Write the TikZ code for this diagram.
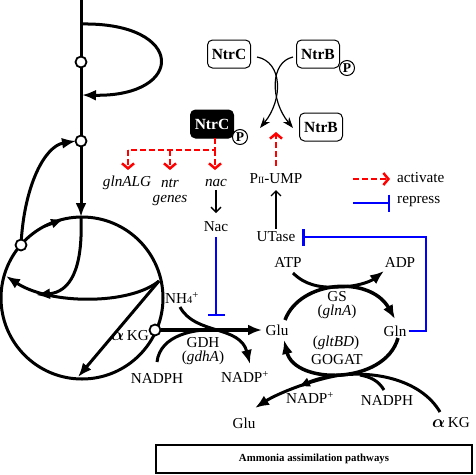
\documentclass[tikz,border=0pt]{standalone}
\usepackage{fontspec}
\setmainfont{Liberation Serif}
\usepackage{amsmath}
\usetikzlibrary{arrows.meta}
\begin{document}
\begin{tikzpicture}[x=1pt,y=-1pt,
  lbl/.style={font=\fontsize{15.2}{17}\selectfont, inner sep=0pt},
  ilbl/.style={font=\fontsize{15.2}{17}\selectfont\itshape, inner sep=0pt},
  ntrbox/.style={draw, rounded corners=5pt, line width=1pt, minimum width=43pt, minimum height=28pt, inner sep=0pt, font=\fontsize{15.5}{17}\selectfont\bfseries},
  pcirc/.style={circle, draw, fill=white, line width=1pt, minimum size=15pt, inner sep=0pt, font=\fontsize{13.5}{14}\selectfont\bfseries},
  met/.style={line width=3pt},
  bigtip/.style={-{Latex[length=14pt,width=11pt]}},
  oc/.style={circle, draw, fill=white, line width=1.8pt, minimum size=11pt, inner sep=0pt},
  act/.style={red, line width=2.5pt, dash pattern=on 6pt off 3pt},
  acttip/.style={-{Straight Barb[length=5pt,width=12pt]}},
  rep/.style={blue, line width=2.5pt},
  reptip/.style={-{Bar[width=17pt]}},
  thinarr/.style={line width=1.3pt, -{Straight Barb[length=5pt,width=10pt]}},
  cross/.style={line width=1.2pt, -{Stealth[length=11pt,width=8pt]}},
]
\useasboundingbox (0,0) rectangle (475,475);
\newcommand{\balpha}{{\fontsize{18}{18}\selectfont$\boldsymbol{\alpha}$}}

% ---------- top regulatory part ----------
\node[ntrbox] (ntrc1) at (229,54) {NtrC};
\node[ntrbox] (ntrb1) at (318,54) {NtrB};
\node[pcirc] (p1) at (347,68) {P};
\node[ntrbox] (ntrb2) at (321,127) {NtrB};
\node[ntrbox, fill=black, text=white] (ntrcp) at (212,124) {NtrC};
\node[pcirc] (p2) at (240,137) {P};

\coordinate (cA) at (257,57);
\coordinate (cB) at (293,57);
\coordinate (tA) at (260,128);
\coordinate (tB) at (293,128);
\draw[cross] (cA) .. controls (283,62) and (283,100) .. (tA);
\draw[cross] (cB) .. controls (270,62) and (270,100) .. (tB);

% labels of genes
\node[ilbl] (glnalg) at (127,183) {glnALG};
\node[ilbl] (ntr) at (170,183) {ntr};
\node[ilbl] (genes) at (170,201) {genes};
\node[ilbl] (nac) at (216,183) {nac};
\node[lbl] (Nac) at (216,227) {Nac};
\node[lbl] (pii) at (276,179) {P{\fontsize{9.5}{10}\selectfont II}-UMP};
\node[lbl] (utase) at (276,237) {UTase};

% red dashed activations
\coordinate (d0) at (215,138);
\coordinate (d1) at (215,150);
\coordinate (d2) at (128,150);
\coordinate (d3) at (170,150);
\draw[act] (d0) -- (d1) -- (d2);
\draw[act,acttip] (d2) -- (128,170);
\draw[act,acttip] (d3) -- (170,170);
\draw[act,acttip] (d1) -- (215,170);
\draw[act,acttip] (276,166) -- (276,132);

% black thin arrows
\draw[thinarr] (nac.south) ++(0,3) -- (216,213);
\draw[thinarr] (utase.north) ++(0,-3) -- (276,190);

% blue repressions
\draw[rep,reptip] (Nac.south) ++(0,5) -- (216,316);

% legend
\draw[act,acttip] (353,179) -- (390,179);
\node[lbl, anchor=west] (lact) at (397,178) {activate};
\draw[rep,reptip] (353,203) -- (390,203);
\node[lbl, anchor=west] (lrep) at (397,202) {repress};

% ---------- left metabolic circuit ----------
\draw[met] (82,298) circle[radius=81pt];
\draw[met,bigtip] (81,0) -- (81,217);
\draw[met,bigtip] (81,24) .. controls (186,22) and (186,97) .. (82,95);
\draw[met,-{Latex[length=13pt,width=10pt]}] (45,226) -- (64,219);
\draw[met,bigtip] (21,245) .. controls (24,185) and (45,146) .. (76,141);
\draw[met,bigtip] (81,217) .. controls (83,270) and (70,292) .. (36,295);
\draw[met,bigtip] (159,281) .. controls (130,305) and (50,305) .. (6,276);
\draw[met,bigtip] (159,281) -- (78,377);
\node[oc] (o1) at (81,62) {};
\node[oc] (o2) at (81,141) {};
\node[oc] (o3) at (21,245) {};
\node[oc] (o4) at (155,330) {};

% ---------- GDH ----------
\node[lbl] (glu1) at (277,330) {Glu};
\draw[line width=4pt,bigtip] (o4) -- (262,330);
\node[lbl] (akg1) at (130,336) {\balpha\,KG};
\node[lbl] (nh4) at (182,298) {NH{\fontsize{10.5}{10}\selectfont 4}\textsuperscript{+}};
\draw[met,bigtip] (180,307) .. controls (195,335) and (240,325) .. (250,364);
\draw[met] (157,362) .. controls (160,335) and (195,328) .. (220,330);
\node[lbl] (gdh) at (203,343) {GDH};
\node[lbl] (gdha) at (203,358) {(\textit{gdhA})};
\node[lbl] (nadph1) at (157,378) {NADPH};
\node[lbl] (nadp1) at (245,377) {NADP\textsuperscript{+}};

% ---------- GS / GOGAT ----------
\node[lbl] (gln) at (395,331) {Gln};
\node[lbl] (atp) at (288,262) {ATP};
\node[lbl] (adp) at (400,262) {ADP};
\draw[line width=3.5pt,bigtip] (285,320) .. controls (300,280) and (370,275) .. (395,319);
\draw[met] (293,273) .. controls (305,285) and (320,288) .. (338,287);
\draw[met,bigtip] (338,287) .. controls (355,287) and (370,282) .. (384,271);
\node[lbl] (gs) at (337,297) {GS};
\node[lbl] (glna) at (337,312) {(\textit{glnA})};
\draw[line width=3.5pt,bigtip] (398,338) .. controls (385,385) and (295,385) .. (284,340);
\node[lbl] (gltbd) at (336,343) {(\textit{gltBD})};
\node[lbl] (gogat) at (337,360) {GOGAT};
\draw[met,bigtip] (440,412) .. controls (420,378) and (370,370) .. (335,376) .. controls (305,382) and (275,395) .. (255,408);
\draw[met,-{Latex[length=12pt,width=10pt]}] (340,375) .. controls (328,376) and (316,379) .. (298,387);
\draw[met] (384,390) .. controls (378,380) and (370,377) .. (360,375);
\node[lbl] (glu2) at (244,423) {Glu};
\node[lbl] (akg2) at (451,423) {\balpha\,KG};
\node[lbl] (nadph2) at (387,400) {NADPH};
\node[lbl] (nadp2) at (310,398) {NADP\textsuperscript{+}};

% Gln represses UTase
\draw[rep,reptip] (gln.east) ++(2,0) -- (426,331) -- (426,237) -- (302,237);

% ---------- title ----------
\node[draw, line width=2pt, minimum width=316pt, minimum height=28pt, inner sep=0pt, font=\fontsize{10.8}{12}\selectfont\bfseries] (title) at (314,459) {Ammonia assimilation pathways};
\end{tikzpicture}
\end{document}
